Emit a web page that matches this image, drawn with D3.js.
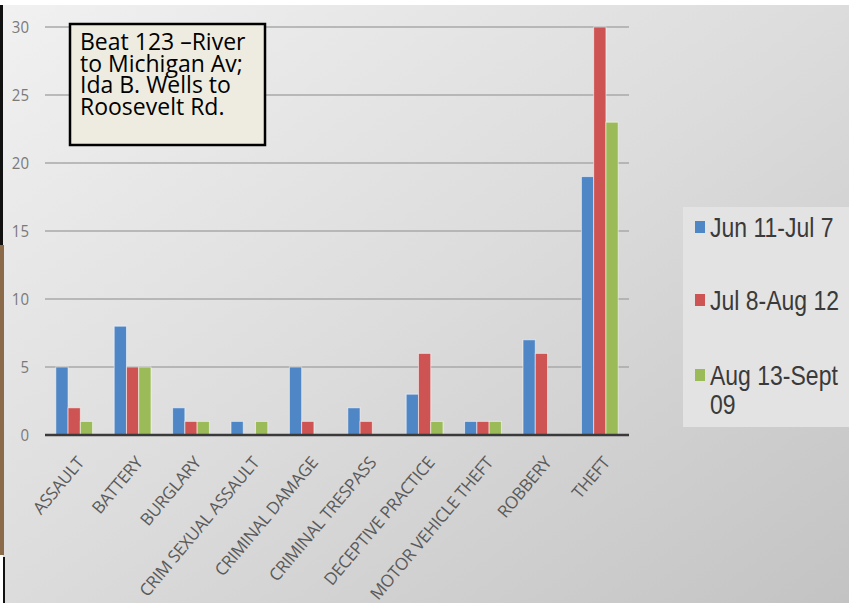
<!DOCTYPE html>
<html>
<head>
<meta charset="utf-8">
<script src="https://cdn.jsdelivr.net/npm/d3@7.9.0/dist/d3.min.js"></script>
<style>
  html, body { margin: 0; padding: 0; background: #fff; }
  svg { display: block; }
</style>
</head>
<body>
<div id="chart"></div>
<script>
const categories = [
  "ASSAULT", "BATTERY", "BURGLARY", "CRIM SEXUAL ASSAULT", "CRIMINAL DAMAGE",
  "CRIMINAL TRESPASS", "DECEPTIVE PRACTICE", "MOTOR VEHICLE THEFT", "ROBBERY", "THEFT"
];
const seriesNames = ["Jun 11-Jul 7", "Jul 8-Aug 12", "Aug 13-Sept 09"];
const jun11Jul7 = [5, 8, 2, 1, 5, 2, 3, 1, 7, 19];
const jul8Aug12 = [2, 5, 1, 0, 1, 1, 6, 1, 6, 30];
const aug13Sep09 = [1, 5, 1, 1, 0, 0, 1, 1, 0, 23];
const yTicks = [0, 5, 10, 15, 20, 25, 30];
const noteLines = ["Beat 123 \u2013River", "to Michigan Av;", "Ida B. Wells to", "Roosevelt Rd."];

const colors = ["#4f86c6", "#cd5452", "#9bbb59"];
const seriesValues = [jun11Jul7, jul8Aug12, aug13Sep09];

const width = 849;
const height = 603;

const svg = d3.select("#chart")
  .append("svg")
  .attr("width", width)
  .attr("height", height);

// background gradient
const defs = svg.append("defs");
const grad = defs.append("linearGradient")
  .attr("id", "bg")
  .attr("x1", "0").attr("y1", "0")
  .attr("x2", "1").attr("y2", "1");
grad.append("stop").attr("offset", "0%").attr("stop-color", "#f1f1f1");
grad.append("stop").attr("offset", "50%").attr("stop-color", "#dcdcdc");
grad.append("stop").attr("offset", "100%").attr("stop-color", "#c3c3c3");

svg.append("rect")
  .attr("x", 0).attr("y", 5)
  .attr("width", width).attr("height", height - 5)
  .attr("fill", "url(#bg)");

// left edge bits
svg.append("rect").attr("x", 0).attr("y", 5).attr("width", 3).attr("height", 240).attr("fill", "#111");
svg.append("rect").attr("x", 0).attr("y", 245).attr("width", 4).attr("height", 310).attr("fill", "#8a6a48");
svg.append("rect").attr("x", 0).attr("y", 555).attr("width", 3).attr("height", 48).attr("fill", "#fff");
svg.append("rect").attr("x", 3).attr("y", 557).attr("width", 2).attr("height", 46).attr("fill", "#111");

// scales
const x0 = d3.scaleBand()
  .domain(categories)
  .range([45, 629])
  .paddingInner(0.37)
  .paddingOuter(0.185);

const x1 = d3.scaleBand()
  .domain(d3.range(seriesNames.length))
  .range([0, x0.bandwidth()]);

const y = d3.scaleLinear()
  .domain([0, 30])
  .range([435, 27]);

// gridlines
svg.append("g")
  .selectAll("line")
  .data(yTicks.filter(d => d > 0))
  .join("line")
  .attr("x1", 45).attr("x2", 629)
  .attr("y1", d => y(d)).attr("y2", d => y(d))
  .attr("stroke", "#a8a8a8")
  .attr("stroke-width", 1.5);

// y tick labels (source image is a bit stretched vertically)
svg.append("g")
  .selectAll("text")
  .data(yTicks)
  .join("text")
  .attr("transform", d => `translate(29,${y(d) + 5.5}) scale(1,1.1)`)
  .attr("text-anchor", "end")
  .attr("font-family", "Open Sans, sans-serif")
  .attr("font-size", 15)
  .attr("fill", "#7a7a7a")
  .text(d => d);

// bars
const groups = svg.append("g")
  .selectAll("g")
  .data(categories)
  .join("g")
  .attr("transform", d => `translate(${x0(d)},0)`);

groups.selectAll("rect")
  .data((d, i) => seriesValues.map((vals, s) => ({ s, v: vals[i] })))
  .join("rect")
  .attr("x", d => x1(d.s))
  .attr("y", d => y(d.v))
  .attr("width", x1.bandwidth())
  .attr("height", d => y(0) - y(d.v))
  .attr("fill", d => colors[d.s])
  .attr("stroke", "rgba(255,255,255,0.55)")
  .attr("stroke-width", 1);

// baseline
svg.append("line")
  .attr("x1", 45).attr("x2", 629)
  .attr("y1", y(0)).attr("y2", y(0))
  .attr("stroke", "#3a3a3a")
  .attr("stroke-width", 2.5);

// category labels
svg.append("g")
  .selectAll("text")
  .data(categories)
  .join("text")
  .attr("transform", d => `translate(${x0(d) + x0.bandwidth() / 2 + 11},${y(0) + 28}) rotate(-50)`)
  .attr("text-anchor", "end")
  .attr("font-family", "Open Sans, sans-serif")
  .attr("font-size", 17)
  .attr("letter-spacing", -0.3)
  .attr("fill", "#5a5a5a")
  .text(d => d);

// legend
const legend = svg.append("g");
legend.append("rect")
  .attr("x", 683).attr("y", 207)
  .attr("width", width - 683).attr("height", 220)
  .attr("fill", "#e3e3e3");

const legendRows = [
  { s: 0, lines: ["Jun 11-Jul 7"], mid: 227 },
  { s: 1, lines: ["Jul 8-Aug 12"], mid: 300 },
  { s: 2, lines: ["Aug 13-Sept", "09"], mid: 375 }
];

legendRows.forEach(row => {
  legend.append("rect")
    .attr("x", 695).attr("y", row.mid - 6)
    .attr("width", 10).attr("height", 12)
    .attr("fill", colors[row.s]);
  row.lines.forEach((l, i) => {
    legend.append("text")
      .attr("transform", `translate(710,${row.mid + 10 + i * 29}) scale(1,1.18)`)
      .attr("font-family", "Liberation Sans, Arial, sans-serif")
      .attr("font-size", 23)
      .attr("fill", "#3a3a3a")
      .text(l);
  });
});

// annotation box
const note = svg.append("g");
note.append("rect")
  .attr("x", 70).attr("y", 24)
  .attr("width", 195).attr("height", 121)
  .attr("fill", "#eeece1")
  .attr("stroke", "#000")
  .attr("stroke-width", 2.5);

note.selectAll("text")
  .data(noteLines)
  .join("text")
  .attr("x", 80)
  .attr("y", (d, i) => 50 + i * 21.5)
  .attr("font-family", "Open Sans, sans-serif")
  .attr("font-size", 23)
  .attr("fill", "#000")
  .text(d => d);
</script>
</body>
</html>
